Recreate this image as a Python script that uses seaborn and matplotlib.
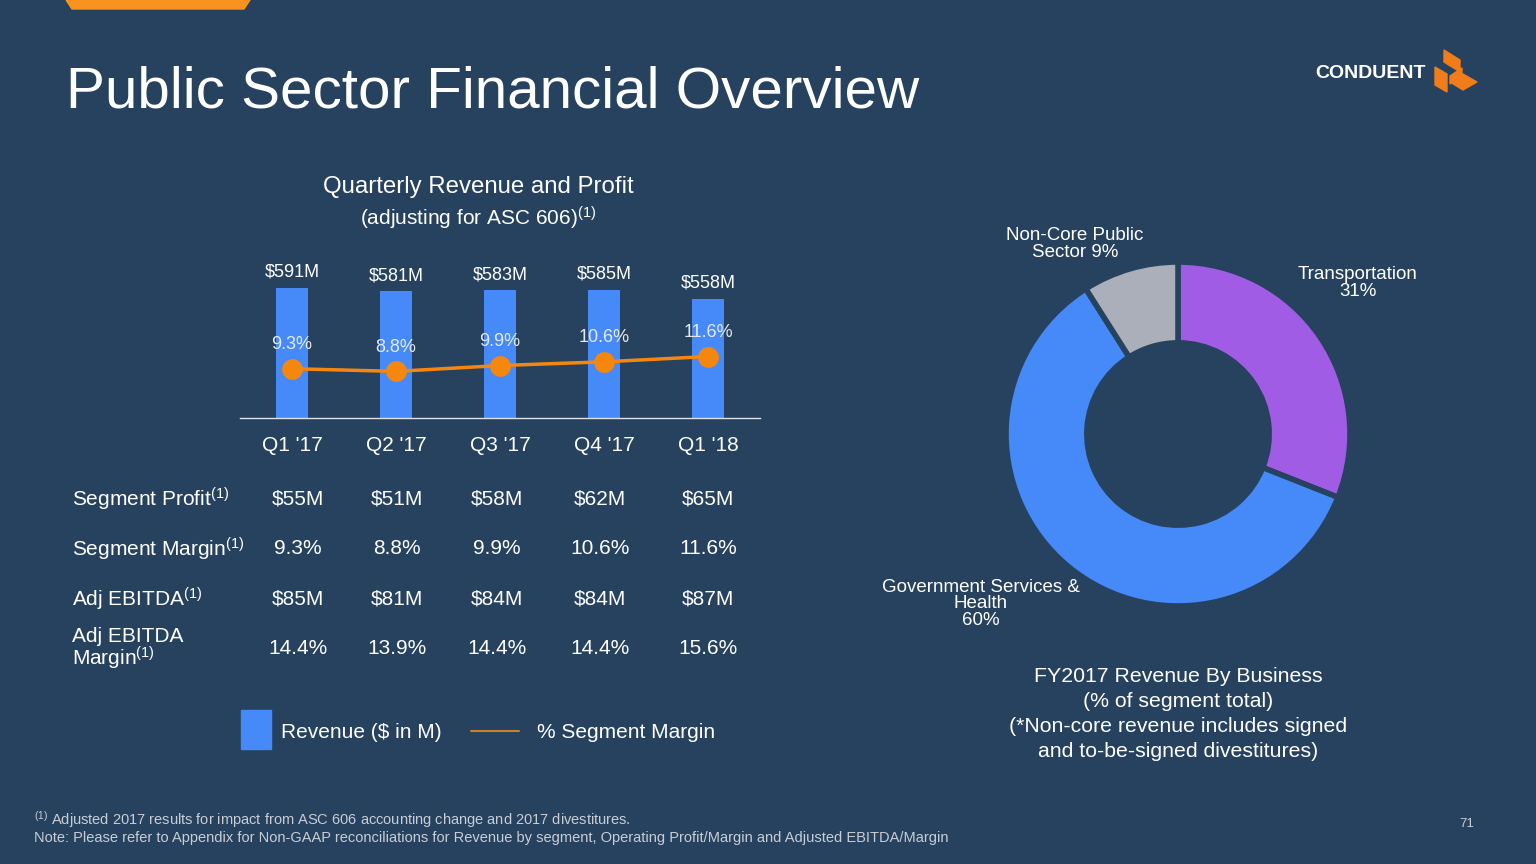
# Public Sector Financial Overview - revenue bars, margin line, FY2017 donut

import numpy as np
import matplotlib
matplotlib.use("Agg")
import matplotlib.pyplot as plt
from matplotlib.patches import Polygon, Rectangle
from matplotlib.lines import Line2D
import seaborn as sns


# Data
quarters = ["Q1 '17", "Q2 '17", "Q3 '17", "Q4 '17", "Q1 '18"]
revenue = [591, 581, 583, 585, 558]
margin = [9.3, 8.8, 9.9, 10.6, 11.6]

row_labels = ["Segment Profit", "Segment Margin", "Adj EBITDA", "Adj EBITDA\nMargin"]
segment_profit = ["$55M", "$51M", "$58M", "$62M", "$65M"]
segment_margin = ["9.3%", "8.8%", "9.9%", "10.6%", "11.6%"]
adj_ebitda = ["$85M", "$81M", "$84M", "$84M", "$87M"]
adj_ebitda_margin = ["14.4%", "13.9%", "14.4%", "14.4%", "15.6%"]

business = ["Transportation", "Government Services &\nHealth", "Non-Core Public\nSector"]
business_share = [31, 60, 9]


# Colours
BG = "#26425F"
BLUE = "#4689F8"
ORANGE = "#F5870F"
PURPLE = "#A05CE5"
GREY = "#AAAFB9"
TEXT = "#FFFFFF"
SOFT = "#E6EAF0"

W, H = 1536, 864


def fx(x):
    return x / W


def fy(y):
    return 1 - y / H


sns.set_theme(style="white")
plt.rcParams["font.family"] = ["Liberation Sans", "DejaVu Sans"]
plt.rcParams["mathtext.fontset"] = "custom"
plt.rcParams["mathtext.rm"] = "Liberation Sans"
plt.rcParams["mathtext.it"] = "Liberation Sans:italic"
plt.rcParams["mathtext.bf"] = "Liberation Sans:bold"

fig = plt.figure(figsize=(15.36, 8.64), dpi=100)
fig.patch.set_facecolor(BG)


# Decorations: top orange tab and logo
fig.patches.append(Polygon([(fx(66), fy(0)), (fx(250), fy(0)), (fx(244), fy(9)), (fx(72), fy(9))],
                           closed=True, transform=fig.transFigure, color="#F7931E", zorder=5))
fig.text(fx(1315), fy(74), "CONDUENT", color=TEXT, fontsize=14, fontweight="bold",
         ha="left", va="center")
logo = [
    [(1444, 50), (1460, 60), (1460, 72), (1444, 62)],
    [(1435, 67), (1447, 74), (1447, 92), (1435, 85)],
    [(1450, 82), (1463, 74), (1477, 82), (1463, 90)],
    [(1450, 76), (1462, 68), (1462, 76), (1450, 84)],
]
for pts in logo:
    fig.patches.append(Polygon([(fx(a), fy(b)) for a, b in pts], closed=True,
                               transform=fig.transFigure, color="#F07C1A", zorder=5))


# Titles
fig.text(fx(66), fy(92), "Public Sector Financial Overview", color=TEXT, fontsize=42,
         ha="left", va="center")
fig.text(fx(478), fy(187), "Quarterly Revenue and Profit", color=TEXT, fontsize=17.3,
         ha="center", va="center")
fig.text(fx(478), fy(218), r"(adjusting for ASC 606)$^{\mathrm{(1)}}$", color=TEXT, fontsize=15,
         ha="center", va="center")


# Bar chart with margin line
ax = fig.add_axes([fx(240), fy(418), fx(760) - fx(240), (418 - 250) / H])
ax.set_facecolor(BG)
sns.barplot(x=quarters, y=revenue, color=BLUE, width=0.31, saturation=1, linewidth=0, ax=ax)
ax.set_ylim(200, 704)
ax.set_xlim(-0.5, 4.5)
ax.bar_label(ax.containers[0], labels=[f"${v}M" for v in revenue], padding=5,
             color=TEXT, fontsize=13)
for s in ["top", "left", "right"]:
    ax.spines[s].set_visible(False)
ax.spines["bottom"].set_color("#DDE3EA")
ax.spines["bottom"].set_linewidth(1)
ax.set_yticks([])
ax.set_ylabel("")
ax.tick_params(axis="x", colors=TEXT, labelsize=15, length=0, pad=13)

ax2 = ax.twinx()
sns.lineplot(x=np.arange(len(quarters)), y=margin, color=ORANGE, linewidth=2.5,
             marker="o", markersize=15, markeredgewidth=0, ax=ax2)
ax2.set_ylim(0, 31.7)
ax2.set_xlim(-0.5, 4.5)
ax2.set_yticks([])
ax2.axis("off")
for i, m in enumerate(margin):
    ax2.annotate(f"{m}%", (i, m), xytext=(0, 17.5), textcoords="offset points",
                 ha="center", va="center", color=SOFT, fontsize=13)


# Table below chart
col_x = [298, 397, 497, 600, 708]
row_y = [499, 549, 599, 648]
rows = [segment_profit, segment_margin, adj_ebitda, adj_ebitda_margin]
sup = r"$^{\mathrm{(1)}}$"
fig.text(fx(72), fy(499), "Segment Profit" + sup, color=TEXT, fontsize=15, ha="left", va="center")
fig.text(fx(72), fy(549), "Segment Margin" + sup, color=TEXT, fontsize=15, ha="left", va="center")
fig.text(fx(72), fy(599), "Adj EBITDA" + sup, color=TEXT, fontsize=15, ha="left", va="center")
fig.text(fx(72), fy(637), "Adj EBITDA", color=TEXT, fontsize=15, ha="left", va="center")
fig.text(fx(72), fy(658), "Margin" + sup, color=TEXT, fontsize=15, ha="left", va="center")
for y, vals in zip(row_y, rows):
    for x, v in zip(col_x, vals):
        fig.text(fx(x), fy(y), v, color=TEXT, fontsize=15, ha="center", va="center")


# Legend
fig.patches.append(Rectangle((fx(241), fy(749)), fx(30), 39 / H, transform=fig.transFigure,
                             color=BLUE))
fig.text(fx(281), fy(732), "Revenue ($ in M)", color=TEXT, fontsize=15, ha="left", va="center")
fig.lines.append(Line2D([fx(471), fx(519)], [fy(731), fy(731)], transform=fig.transFigure,
                        color="#C8802C", linewidth=1.5))
fig.text(fx(537), fy(732), "% Segment Margin", color=TEXT, fontsize=15, ha="left", va="center")


# Donut chart
r = 172
ax3 = fig.add_axes([fx(1178 - r), fy(434 + r), 2 * r / W, 2 * r / H])
ax3.pie(business_share, colors=[PURPLE, BLUE, GREY], startangle=90, counterclock=False,
        wedgeprops=dict(width=0.47, edgecolor=BG, linewidth=4))
ax3.set_xlim(-1, 1)
ax3.set_ylim(-1, 1)
ax3.set_aspect("equal")
ax3.axis("off")

fig.text(fx(1358), fy(283), f"{business[0]}\n{business_share[0]}%", color=TEXT, fontsize=13.5,
         ha="center", va="center", linespacing=0.95)
fig.text(fx(981), fy(604), f"{business[1]}\n{business_share[1]}%", color=TEXT, fontsize=13.5,
         ha="center", va="center", linespacing=0.95)
fig.text(fx(1075), fy(244), f"{business[2]} {business_share[2]}%", color=TEXT, fontsize=13.5,
         ha="center", va="center", linespacing=0.95)

fig.text(fx(1178), fy(714), "FY2017 Revenue By Business\n(% of segment total)\n"
         "(*Non-core revenue includes signed\nand to-be-signed divestitures)",
         color=TEXT, fontsize=15.3, ha="center", va="center", linespacing=1.4)


# Footnotes
fig.text(fx(34), fy(820), r"$^{\mathrm{(1)}}$ Adjusted 2017 results for impact from ASC 606 accounting change and 2017 divestitures.",
         color="#C9CED6", fontsize=10.5, ha="left", va="center")
fig.text(fx(34), fy(838), "Note: Please refer to Appendix for Non-GAAP reconciliations for Revenue by segment, "
         "Operating Profit/Margin and Adjusted EBITDA/Margin",
         color="#C9CED6", fontsize=10.5, ha="left", va="center")
fig.text(fx(1467), fy(824), "71", color="#C9CED6", fontsize=9.5, ha="center", va="center")

fig.savefig("out.png", dpi=100, facecolor=BG)
